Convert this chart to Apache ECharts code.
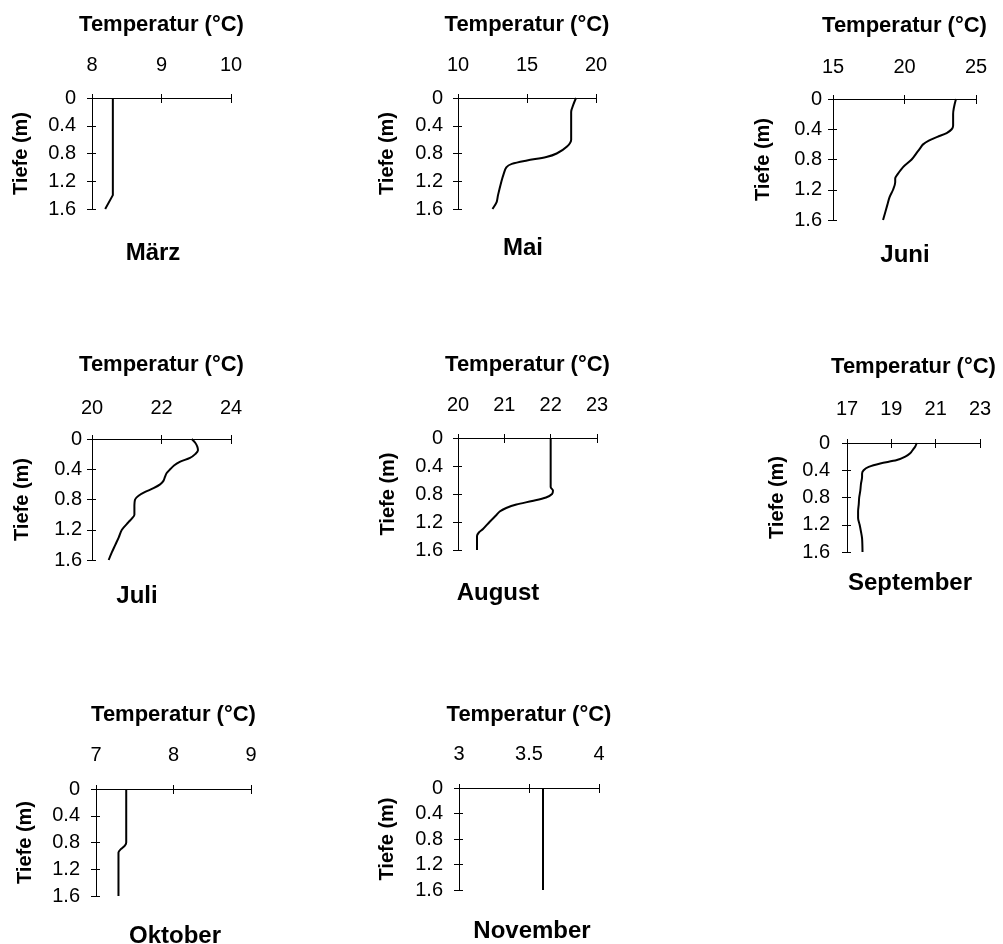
<!DOCTYPE html>
<html><head><meta charset="utf-8">
<script src="https://cdn.jsdelivr.net/npm/echarts@6/dist/echarts.min.js"></script>
<style>html,body{margin:0;padding:0;background:#fff}#c{width:1003px;height:944px}</style>
</head><body><div id="c"></div>
<script>
// ---- data ----
const months = ['März','Mai','Juni','Juli','August','September','Oktober','November'];
const xTitle = 'Temperatur (°C)';
const yTitle = 'Tiefe (m)';
const xMin = [8, 10, 15, 20, 20, 17, 7, 3];
const xMax = [10, 20, 25, 24, 23, 23, 9, 4];
const xStep = [1, 5, 5, 2, 1, 2, 1, 0.5];
const depthMin = 0, depthMax = 1.6, depthStep = 0.4;

const marzDepth = [0, 1.4, 1.6];
const marzTemp  = [8.3, 8.3, 8.19];
const maiDepth = [0, 0.1, 0.2, 0.4, 0.6, 0.7, 0.8, 0.85, 0.9, 0.95, 1.0, 1.1, 1.2, 1.4, 1.5, 1.6];
const maiTemp  = [18.55, 18.35, 18.2, 18.2, 18.2, 17.9, 17.15, 16.4, 15.0, 13.9, 13.5, 13.3, 13.15, 12.9, 12.8, 12.5];
const juniDepth = [0, 0.2, 0.35, 0.4, 0.45, 0.5, 0.55, 0.6, 0.65, 0.7, 0.8, 0.9, 1.0, 1.05, 1.1, 1.2, 1.3, 1.4, 1.6];
const juniTemp  = [23.6, 23.4, 23.4, 23.3, 22.95, 22.3, 21.7, 21.3, 21.1, 20.9, 20.5, 19.9, 19.5, 19.35, 19.35, 19.2, 18.95, 18.8, 18.5];
const juliDepth = [0, 0.05, 0.1, 0.15, 0.2, 0.25, 0.3, 0.35, 0.4, 0.45, 0.5, 0.55, 0.6, 0.65, 0.7, 0.75, 0.8, 0.9, 1.0, 1.05, 1.1, 1.2, 1.3, 1.4, 1.5, 1.6];
const juliTemp  = [22.87, 22.97, 23.03, 23.05, 22.97, 22.82, 22.54, 22.36, 22.25, 22.15, 22.1, 22.06, 21.96, 21.77, 21.53, 21.34, 21.24, 21.22, 21.22, 21.15, 21.05, 20.86, 20.77, 20.67, 20.57, 20.48];
const augustDepth = [0, 0.7, 0.75, 0.8, 0.85, 0.9, 0.95, 1.0, 1.05, 1.1, 1.2, 1.3, 1.35, 1.4, 1.6];
const augustTemp  = [22.0, 22.0, 22.05, 22.03, 21.9, 21.6, 21.26, 21.04, 20.9, 20.83, 20.68, 20.54, 20.45, 20.41, 20.41];
const septDepth = [0, 0.05, 0.1, 0.15, 0.2, 0.25, 0.3, 0.35, 0.4, 0.45, 0.5, 0.6, 0.7, 0.8, 0.9, 1.0, 1.1, 1.2, 1.3, 1.4, 1.6];
const septTemp  = [20.15, 20.08, 19.97, 19.85, 19.63, 19.25, 18.5, 17.98, 17.75, 17.68, 17.68, 17.63, 17.6, 17.55, 17.53, 17.5, 17.5, 17.57, 17.63, 17.68, 17.7];
const oktDepth = [0, 0.8, 0.85, 0.9, 0.95, 1.0, 1.6];
const oktTemp  = [7.39, 7.39, 7.37, 7.32, 7.29, 7.29, 7.29];
const novDepth = [0, 1.6];
const novTemp  = [3.6, 3.6];

const depths = [marzDepth, maiDepth, juniDepth, juliDepth, augustDepth, septDepth, oktDepth, novDepth];
const temps  = [marzTemp, maiTemp, juniTemp, juliTemp, augustTemp, septTemp, oktTemp, novTemp];
const smoothing = [0, 0.3, 0.3, 0.3, 0.3, 0.3, 0.2, 0];

// ---- layout (positions / sizes) ----
const layout = [
  {l: 92,  t: 98,  w: 139, h: 111, gx: 62, gy: 61, mx: 23, my: 16, mX: 153, mY: 253},
  {l: 458, t: 98,  w: 138, h: 111, gx: 62, gy: 61, mx: 23, my: 15, mX: 523, mY: 248},
  {l: 833, t: 99,  w: 143, h: 121, gx: 62, gy: 60, mx: 22, my: 11, mX: 905, mY: 255},
  {l: 92,  t: 439, w: 139, h: 121, gx: 63, gy: 60, mx: 21, my: 10, mX: 137, mY: 596},
  {l: 458, t: 438, w: 139, h: 112, gx: 62, gy: 60, mx: 23, my: 15, mX: 498, mY: 593},
  {l: 847, t: 443, w: 133, h: 109, gx: 65, gy: 60, mx: 24, my: 17, mX: 910, mY: 583},
  {l: 96,  t: 789, w: 155, h: 107, gx: 63, gy: 61, mx: 24, my: 16, mX: 175, mY: 936},
  {l: 459, t: 788, w: 140, h: 102, gx: 62, gy: 62, mx: 24, my: 16, mX: 532, mY: 931}
];

const FONT = 'Liberation Sans, Arial, sans-serif';
const axisCol = '#000';
const grids = [], xAxes = [], yAxes = [], series = [], graphics = [];

months.forEach((m, i) => {
  const L = layout[i];
  grids.push({left: L.l, top: L.t, width: L.w, height: L.h, containLabel: false});
  const xBase = {gridIndex: i, type: 'value', position: 'top', min: xMin[i], max: xMax[i], interval: xStep[i],
    splitLine: {show: false}, axisLine: {onZero: false, lineStyle: {color: axisCol, width: 1}}};
  xAxes.push(Object.assign({}, xBase, {
    name: xTitle, nameLocation: 'middle', nameGap: L.gx,
    nameTextStyle: {fontFamily: FONT, fontWeight: 'bold', fontSize: 22, color: '#000'},
    axisTick: {show: true, inside: false, length: 4, lineStyle: {color: axisCol}},
    axisLabel: {show: true, margin: L.mx, fontFamily: FONT, fontSize: 20, color: '#000', showMinLabel: true, showMaxLabel: true}
  }));
  xAxes.push(Object.assign({}, xBase, {
    axisLine: {show: false, onZero: false},
    axisTick: {show: true, inside: true, length: 5, lineStyle: {color: axisCol}},
    axisLabel: {show: false}
  }));
  const yBase = {gridIndex: i, type: 'value', position: 'left', inverse: true, min: depthMin, max: depthMax, interval: depthStep,
    splitLine: {show: false}, axisLine: {onZero: false, lineStyle: {color: axisCol, width: 1}}};
  yAxes.push(Object.assign({}, yBase, {
    name: yTitle, nameLocation: 'middle', nameGap: L.gy,
    nameTextStyle: {fontFamily: FONT, fontWeight: 'bold', fontSize: 20, color: '#000'},
    axisTick: {show: true, inside: false, length: 5, lineStyle: {color: axisCol}},
    axisLabel: {show: true, margin: L.my, fontFamily: FONT, fontSize: 20, color: '#000', showMinLabel: true, showMaxLabel: true}
  }));
  yAxes.push(Object.assign({}, yBase, {
    axisLine: {show: false, onZero: false},
    axisTick: {show: true, inside: true, length: 4, lineStyle: {color: axisCol}},
    axisLabel: {show: false}
  }));
  series.push({
    type: 'line', name: m, xAxisIndex: 2 * i, yAxisIndex: 2 * i,
    data: depths[i].map((d, k) => [temps[i][k], d]),
    symbol: 'none', smooth: smoothing[i] || false,
    lineStyle: {color: '#000', width: 2}, animation: false, clip: false
  });
  graphics.push({type: 'text', x: L.mX, y: L.mY,
    style: {text: m, font: 'bold 24px ' + FONT, fill: '#000', textAlign: 'center', textVerticalAlign: 'middle'}});
});

const chart = echarts.init(document.getElementById('c'), null, {renderer: 'canvas'});
chart.setOption({
  backgroundColor: '#fff',
  animation: false,
  grid: grids, xAxis: xAxes, yAxis: yAxes, series: series,
  graphic: graphics
});
</script></body></html>
